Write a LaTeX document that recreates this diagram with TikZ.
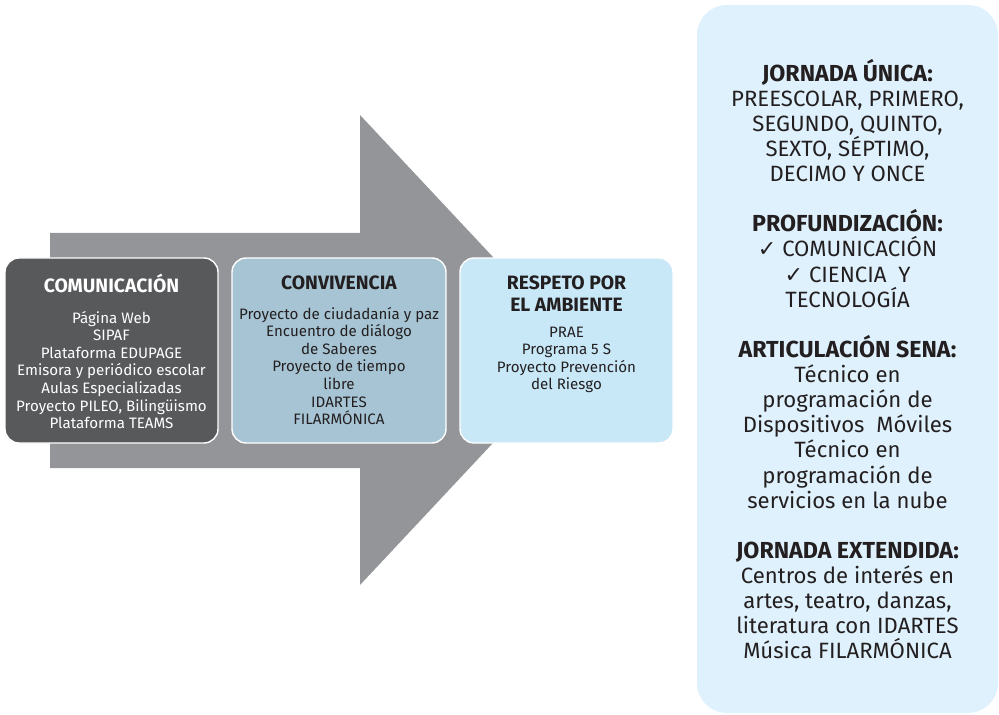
\documentclass[tikz,border=0pt]{standalone}
\usepackage{fontspec}
\setmainfont{Fira Sans}
\newfontfamily\checkfont{DejaVu Sans}
\definecolor{arrowgray}{HTML}{939598}
\definecolor{darkbox}{HTML}{58595B}
\definecolor{midbox}{HTML}{A7C4D4}
\definecolor{lightbox}{HTML}{C8E8F8}
\definecolor{panelblue}{HTML}{DFF1FC}
\definecolor{inkblack}{HTML}{231F20}
\tikzset{
  areabox/.style={draw=white, line width=0.8pt, rounded corners=8pt},
  areatitle/.style={align=center, font=\bfseries\fontsize{11}{12.4}\selectfont},
  arealist/.style={align=center, font=\fontsize{8.6}{10}\selectfont},
  paneltext/.style={align=center, text=inkblack, font=\fontsize{12.6}{14.3}\selectfont}
}
\newcommand{\ck}{{\checkfont\char"2713}}
\newcommand{\pnhead}[1]{{\bfseries\fontsize{13.2}{14.3}\selectfont #1}}
\begin{document}
\begin{tikzpicture}[x=0.02cm, y=-0.02cm]

   \useasboundingbox (0,0) rectangle (999,715);

   % big arrow behind the boxes
   \fill[arrowgray] (50,233) -- (360,233) -- (360,115) -- (580,350)
      -- (360,585) -- (360,468) -- (50,468) -- cycle;

   % the three areas
   \filldraw[areabox, fill=darkbox] (5,258) rectangle (218,443);
   \filldraw[areabox, fill=midbox] (232,258) rectangle (446,443);
   \filldraw[areabox, fill=lightbox] (460,258) rectangle (673,443);

   \node[areatitle, text=white] (comtitle) at (111.5,283) {COMUNICACIÓN};
   \node[arealist, text=white] (comlist) at (111.5,370) {Página Web\\SIPAF\\Plataforma EDUPAGE\\Emisora y periódico escolar\\Aulas Especializadas\\Proyecto PILEO, Bilingüismo\\Plataforma TEAMS};

   \node[areatitle, text=inkblack] (convtitle) at (339,283) {CONVIVENCIA};
   \node[arealist, text=inkblack] (convlist) at (339,366) {Proyecto de ciudadanía y paz\\Encuentro de diálogo\\de Saberes\\Proyecto de tiempo\\libre\\IDARTES\\FILARMÓNICA};

   \node[areatitle, text=inkblack] (ambtitle) at (566.5,294) {RESPETO POR\\EL AMBIENTE};
   \node[arealist, text=inkblack] (amblist) at (566.5,360) {PRAE\\Programa 5 S\\Proyecto Prevención\\del Riesgo};

   % panel on the right
   \fill[panelblue, rounded corners=17pt] (697,5) rectangle (998,713);
   \node[paneltext] (jornadas) at (847.5,359) {\pnhead{JORNADA ÚNICA:}\\PREESCOLAR, PRIMERO,\\SEGUNDO, QUINTO,\\SEXTO, SÉPTIMO,\\DECIMO Y ONCE\\[14.3pt]
      \pnhead{PROFUNDIZACIÓN:}\\\ck{} COMUNICACIÓN\\\ck{} CIENCIA\ \ Y\\TECNOLOGÍA\\[14.3pt]
      \pnhead{ARTICULACIÓN SENA:}\\Técnico en\\programación de\\Dispositivos\ \ Móviles\\Técnico en\\programación de\\servicios en la nube\\[14.3pt]
      \pnhead{JORNADA EXTENDIDA:}\\Centros de interés en\\artes, teatro, danzas,\\literatura con IDARTES\\Música FILARMÓNICA};

\end{tikzpicture}
\end{document}
